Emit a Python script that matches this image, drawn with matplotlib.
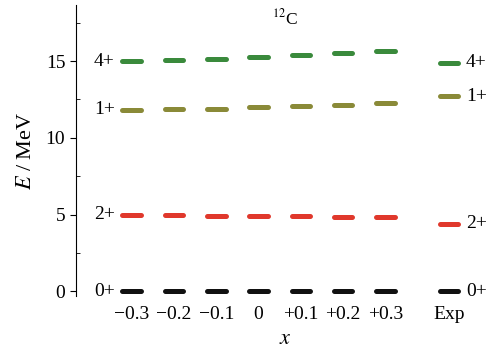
#!/usr/bin/env python3
"""Level scheme of 12C for different x values compared with experiment."""

import matplotlib

matplotlib.use("Agg")
import matplotlib.pyplot as plt
from matplotlib.ticker import MultipleLocator

plt.rcParams["font.family"] = ["Liberation Serif", "DejaVu Serif"]
plt.rcParams["mathtext.fontset"] = "stix"

# categories along x (calculations for several x, then experiment)
COLUMNS = ["\u22120.3", "\u22120.2", "\u22120.1", "0", "+0.1", "+0.2", "+0.3", "Exp"]
POSITIONS = [0, 1, 2, 3, 4, 5, 6, 7.5]

# level energies in MeV, one value per column
LEVELS = ["0+", "2+", "1+", "4+"]
E_0 = [0.0, 0.0, 0.0, 0.0, 0.0, 0.0, 0.0, 0.0]
E_2 = [4.98, 4.96, 4.94, 4.92, 4.90, 4.88, 4.86, 4.42]
E_1 = [11.83, 11.85, 11.91, 11.98, 12.06, 12.15, 12.26, 12.70]
E_4 = [15.00, 15.04, 15.14, 15.26, 15.38, 15.51, 15.64, 14.88]
ENERGIES = [E_0, E_2, E_1, E_4]
COLORS = ["#111111", "#e0382c", "#8a8a38", "#3a8a3c"]

HALF = 0.22

fig = plt.figure(figsize=(4.95, 3.58), dpi=100)
ax = fig.add_axes([0.153, 0.173, 0.847, 0.813])

for label, energies, color in zip(LEVELS, ENERGIES, COLORS):
    for pos, e in zip(POSITIONS, energies):
        ax.plot([pos - HALF, pos + HALF], [e, e], color=color, lw=3.6,
                solid_capstyle="round")
    ax.text(POSITIONS[0] - 0.40, energies[0], label, ha="right", va="center",
            fontsize=14)
    ax.text(POSITIONS[-1] + 0.40, energies[-1], label, ha="left", va="center",
            fontsize=14)

ax.text(0.5, 0.955, r"$^{12}$C", transform=ax.transAxes, ha="center",
        va="center", fontsize=12.5)

ax.set_xlim(-1.32, 8.59)
ax.set_ylim(-0.3, 18.65)
ax.set_xticks(POSITIONS)
ax.set_xticklabels(COLUMNS)
ax.yaxis.set_major_locator(MultipleLocator(5))
ax.yaxis.set_minor_locator(MultipleLocator(2.5))
ax.tick_params(axis="x", length=0, pad=7, labelsize=14)
ax.tick_params(axis="y", which="major", direction="out", length=4, labelsize=14)
ax.tick_params(axis="y", which="minor", direction="in", length=3)
for side in ("top", "right", "bottom"):
    ax.spines[side].set_visible(False)
ax.spines["left"].set_linewidth(0.8)

ax.set_xlabel(r"$x$", fontsize=16, labelpad=5)
ax.set_ylabel(r"$E$ / MeV", fontsize=16, labelpad=7)

fig.savefig("out.png", dpi=100)
